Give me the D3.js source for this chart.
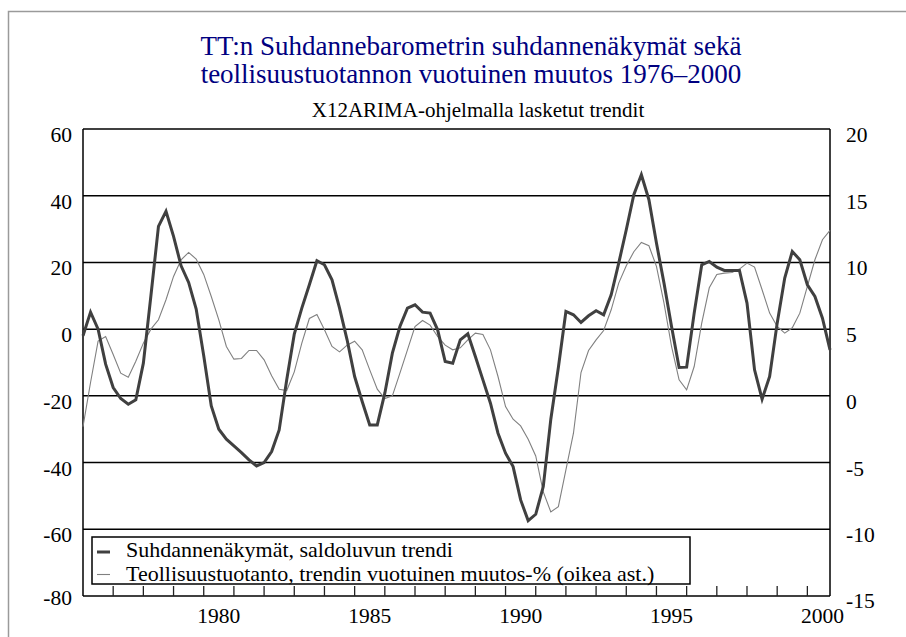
<!DOCTYPE html>
<html>
<head>
<meta charset="utf-8">
<script src="https://cdn.jsdelivr.net/npm/d3@7"></script>
<style>
  body { margin: 0; background: #fff; }
  svg text { font-family: "Liberation Serif", "Times New Roman", serif; }
</style>
</head>
<body>
<div id="chart"></div>
<script>
// chart size
var width = 906,
    height = 637;

// quarterly data 1976Q1 - 2000Q4
var startYear = 1976;
var quarters = d3.range(100).map(function(i) { return startYear + i / 4; });

// Suhdannenäkymät, saldoluvun trendi (left axis)
var suhdanne = [
  -2, 5.1, 0, -10.5, -17.5, -20.8, -22.5, -21.2, -10.2, 10,
  30.8, 35.3, 27.8, 19, 14, 6, -8, -23, -30, -33,
  -35, -37, -39.2, -41, -40, -36.7, -30.2, -15.2, -1.5, 6.3,
  13.3, 20.5, 19.3, 14.8, 6.3, -3.2, -14.2, -21.7, -28.7, -28.7,
  -19.2, -7.2, 0.8, 6.3, 7.3, 5.1, 4.8, -0.2, -9.7, -10.2,
  -3.2, -1.4, -8.2, -15.2, -22.2, -31.2, -37.2, -41.2, -51.2, -57.4,
  -55.5, -47.2, -27, -11.5, 5.3, 4.3, 2.0, 4.0, 5.5, 4.3,
  10.3, 19.8, 29.8, 40.3, 46.3, 38.8, 25.8, 13.8, 0.8, -11.5,
  -11.4, 4.8, 19.3, 20.3, 18.6, 17.6, 17.6, 17.6, 7.8, -12.2,
  -21, -14.2, 1.8, 15.3, 23.3, 20.8, 13.3, 9.8, 3.3, -6.2
];

// Teollisuustuotanto, trendin vuotuinen muutos-% (right axis)
var teollisuus = [
  -2.3, 1.0, 4.1, 4.45, 3.1, 1.7, 1.4, 2.6, 3.95, 5.0,
  5.7, 7.2, 8.95, 10.2, 10.75, 10.25, 9.1, 7.45, 5.7, 3.7,
  2.75, 2.8, 3.4, 3.4, 2.7, 1.5, 0.5, 0.4, 1.8, 3.95,
  5.8, 6.1, 4.95, 3.7, 3.3, 3.8, 4.1, 3.45, 1.95, 0.5,
  -0.2, 0.0, 1.7, 3.45, 5.2, 5.65, 5.3, 4.45, 3.8, 3.45,
  3.6, 4.2, 4.7, 4.6, 3.45, 1.45, -0.8, -1.75, -2.25, -3.25,
  -4.5, -7.2, -8.7, -8.3, -5.55, -2.8, 1.75, 3.4, 4.2, 4.9,
  6.45, 8.45, 9.75, 10.8, 11.5, 11.25, 9.7, 6.95, 3.7, 1.2,
  0.45, 2.2, 5.45, 8.1, 9.1, 9.2, 9.25, 9.5, 9.95, 9.65,
  7.95, 6.2, 5.2, 4.7, 5.1, 6.2, 8.2, 10.2, 11.7, 12.4
];

// axis ticks and labels
var leftTicks = [-80, -60, -40, -20, 0, 20, 40, 60];
var rightTicks = [-15, -10, -5, 0, 5, 10, 15, 20];
var yearTicks = d3.range(1977, 2001);
var yearLabels = [1980, 1985, 1990, 1995, 2000];

var titleLines = ["TT:n Suhdannebarometrin suhdannenäkymät sekä",
                  "teollisuustuotannon vuotuinen muutos 1976–2000"];
var subtitle = "X12ARIMA-ohjelmalla lasketut trendit";
var legendNames = ["Suhdannenäkymät, saldoluvun trendi",
                   "Teollisuustuotanto, trendin vuotuinen muutos-% (oikea ast.)"];

// plot area
var plotL = 83, plotR = 830, plotT = 129, plotB = 596;

var svg = d3.select("#chart")
    .append("svg")
    .attr("width", width)
    .attr("height", height);

// outer frame
svg.append("rect")
    .attr("x", 8.5).attr("y", 11.5)
    .attr("width", 1000).attr("height", 1000)
    .attr("fill", "none")
    .attr("stroke", "#9a9a9a")
    .attr("stroke-width", 1.5);

var x = d3.scaleLinear().domain([1976, 2000.75]).range([plotL, plotR]);
var yL = d3.scaleLinear().domain([-80, 60]).range([plotB, plotT]);
var yR = d3.scaleLinear().domain([-15, 20]).range([plotB, plotT]);

// titles
svg.selectAll(".title")
    .data(titleLines)
    .enter()
    .append("text")
    .attr("x", 471)
    .attr("y", function(d, i) { return 55 + i * 28; })
    .attr("text-anchor", "middle")
    .attr("fill", "#000080")
    .style("font-size", "27px")
    .text(function(d) { return d; });

svg.append("text")
    .attr("x", 478).attr("y", 117)
    .attr("text-anchor", "middle")
    .style("font-size", "21px")
    .text(subtitle);

// horizontal grid lines
svg.selectAll(".grid")
    .data(leftTicks)
    .enter()
    .append("line")
    .attr("x1", plotL).attr("x2", plotR)
    .attr("y1", function(d) { return yL(d); })
    .attr("y2", function(d) { return yL(d); })
    .attr("stroke", "#000")
    .attr("stroke-width", 1.5);

// vertical frame lines
svg.append("line")
    .attr("x1", plotL).attr("x2", plotL).attr("y1", plotT).attr("y2", plotB)
    .attr("stroke", "#000").attr("stroke-width", 1.5);
svg.append("line")
    .attr("x1", plotR).attr("x2", plotR).attr("y1", plotT).attr("y2", plotB)
    .attr("stroke", "#000").attr("stroke-width", 1.5);

// year ticks (pointing up from the bottom)
svg.selectAll(".ytick")
    .data(yearTicks)
    .enter()
    .append("line")
    .attr("x1", function(d) { return x(d); })
    .attr("x2", function(d) { return x(d); })
    .attr("y1", plotB).attr("y2", plotB - 10)
    .attr("stroke", "#222")
    .attr("stroke-width", 1.3);

svg.selectAll(".ylabel")
    .data(yearLabels)
    .enter()
    .append("text")
    .attr("x", function(d) { return x(d + 0.5); })
    .attr("y", 623)
    .attr("text-anchor", "middle")
    .style("font-size", "21.5px")
    .text(function(d) { return d; });

// left axis labels
svg.selectAll(".llabel")
    .data(leftTicks)
    .enter()
    .append("text")
    .attr("x", 72)
    .attr("y", function(d) { return d === -80 ? yL(d) + 9 : yL(d) + 13; })
    .attr("text-anchor", "end")
    .style("font-size", "21.5px")
    .text(function(d) { return d; });

// right axis labels
svg.selectAll(".rlabel")
    .data(rightTicks)
    .enter()
    .append("text")
    .attr("x", 846)
    .attr("y", function(d) { return d === -15 ? yR(d) + 12 : yR(d) + 13; })
    .attr("text-anchor", "start")
    .style("font-size", "21.5px")
    .text(function(d) { return d; });

// lines
var thinLine = d3.line()
    .x(function(d, i) { return x(quarters[i]); })
    .y(function(d) { return yR(d); });

var thickLine = d3.line()
    .x(function(d, i) { return x(quarters[i]); })
    .y(function(d) { return yL(d); });

svg.append("path")
    .attr("d", thinLine(teollisuus))
    .attr("fill", "none")
    .attr("stroke", "#808080")
    .attr("stroke-width", 1.1);

svg.append("path")
    .attr("d", thickLine(suhdanne))
    .attr("fill", "none")
    .attr("stroke", "#404040")
    .attr("stroke-width", 3)
    .attr("stroke-linejoin", "miter");

// legend
var legend = svg.append("g");
legend.append("rect")
    .attr("x", 92).attr("y", 537)
    .attr("width", 598).attr("height", 47)
    .attr("fill", "#fff")
    .attr("stroke", "#000")
    .attr("stroke-width", 1.5);

var legendStyles = [{ c: "#404040", w: 3 }, { c: "#808080", w: 1.1 }];

legend.selectAll(".lline")
    .data(legendNames)
    .enter()
    .append("line")
    .attr("x1", 97).attr("x2", 110)
    .attr("y1", function(d, i) { return 552 + i * 22.5; })
    .attr("y2", function(d, i) { return 552 + i * 22.5; })
    .attr("stroke", function(d, i) { return legendStyles[i].c; })
    .attr("stroke-width", function(d, i) { return legendStyles[i].w; });

legend.selectAll(".ltext")
    .data(legendNames)
    .enter()
    .append("text")
    .attr("x", 126)
    .attr("y", function(d, i) { return 557 + i * 23.5; })
    .style("font-size", "22px")
    .text(function(d) { return d; });
</script>
</body>
</html>
